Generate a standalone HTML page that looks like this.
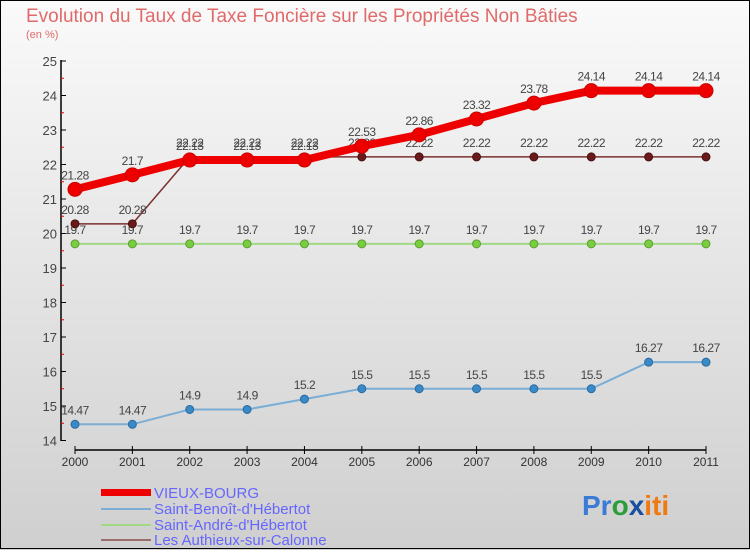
<!DOCTYPE html>
<html><head><meta charset="utf-8"><style>
body{margin:0;width:750px;height:550px;overflow:hidden;font-family:"Liberation Sans",sans-serif}
svg text{font-family:"Liberation Sans",sans-serif}
</style></head><body>
<svg width="750" height="550">
<defs><linearGradient id="bg" x1="0" y1="0" x2="0" y2="1"><stop offset="0" stop-color="#fafafa"/><stop offset="1" stop-color="#cfcfcf"/></linearGradient></defs>
<rect x="0" y="0" width="750" height="550" fill="url(#bg)"/>
<rect x="0.5" y="0.5" width="749" height="548" fill="none" stroke="#000"/>
<text x="26" y="22" font-size="19" fill="#e06a6a">Evolution du Taux de Taxe Foncière sur les Propriétés Non Bâties</text>
<text x="26" y="38" font-size="11" fill="#e06a6a">(en %)</text>
<g id="axes"></g><g id="series"></g>
<g>
<rect x="101" y="489" width="50" height="7" fill="#e00"/>
<text x="154" y="498" font-size="15" fill="#6666ff">VIEUX-BOURG</text>
<line x1="101" y1="509" x2="151" y2="509" stroke="#7aaed6" stroke-width="2"/>
<text x="154" y="514" font-size="15" fill="#6666ff">Saint-Benoît-d'Hébertot</text>
<line x1="101" y1="525" x2="151" y2="525" stroke="#a0d884" stroke-width="2"/>
<text x="154" y="530" font-size="15" fill="#6666ff">Saint-André-d'Hébertot</text>
<line x1="101" y1="540" x2="151" y2="540" stroke="#9a6e6e" stroke-width="2"/>
<text x="154" y="545" font-size="15" fill="#6666ff">Les Authieux-sur-Calonne</text>
</g>
<g font-size="28" font-weight="bold">
<text x="582" y="515"><tspan fill="#3a7bd5">Pr</tspan><tspan fill="#2a9d3a">o</tspan><tspan fill="#1a4fa0">x</tspan><tspan fill="#f07a10">iti</tspan></text>
</g>
</svg>
<script>
const years=[2000,2001,2002,2003,2004,2005,2006,2007,2008,2009,2010,2011];
const yTicks=[14,15,16,17,18,19,20,21,22,23,24,25];
const vieuxBourg=[21.28,21.7,22.13,22.13,22.13,22.53,22.86,23.32,23.78,24.14,24.14,24.14];
const saintBenoit=[14.47,14.47,14.9,14.9,15.2,15.5,15.5,15.5,15.5,15.5,16.27,16.27];
const saintAndre=[19.7,19.7,19.7,19.7,19.7,19.7,19.7,19.7,19.7,19.7,19.7,19.7];
const lesAuthieux=[20.28,20.28,22.22,22.22,22.22,22.22,22.22,22.22,22.22,22.22,22.22,22.22];
const NS='http://www.w3.org/2000/svg';
const xS=i=>75+i*(706-75)/11;
const yS=v=>440.5-(v-14)*34.5;
function mk(tag,attrs,parent,txt){const e=document.createElementNS(NS,tag);for(const k in attrs)e.setAttribute(k,attrs[k]);if(txt!==undefined)e.textContent=txt;parent.appendChild(e);return e;}
const ax=document.getElementById('axes');
let e=mk('line',{x1:61,y1:60,x2:61,y2:441,stroke:'#000','stroke-width':1.5},ax);


e=mk('line',{x1:75,y1:450,x2:706,y2:450,stroke:'#000','stroke-width':1.5},ax);


yTicks.forEach((t,i)=>{const y=yS(t);
mk('line',{x1:61,y1:y,x2:66,y2:y,stroke:'#000'},ax);
if(i<yTicks.length-1)mk('line',{x1:61,y1:y-17.25,x2:64,y2:y-17.25,stroke:'#e00'},ax);
e=mk('text',{x:57,y:y+5,'font-size':13,'text-anchor':'end',fill:'#444'},ax,String(t));

});
years.forEach((yr,i)=>{const x=xS(i);
mk('line',{x1:x,y1:446,x2:x,y2:454,stroke:'#000'},ax);
e=mk('text',{x:x,y:466,'font-size':12,'text-anchor':'middle',fill:'#333'},ax,String(yr));

});
const sg=document.getElementById('series');
function series(data,name,color,w,r,dot,stroke){
const g=mk('g',{},sg);


let p=mk('polyline',{points:data.map((v,i)=>xS(i)+','+yS(v)).join(' '),fill:'none',stroke:color,'stroke-width':w,'stroke-linejoin':'round'},g);


data.forEach((v,i)=>{const c=mk('circle',{cx:xS(i),cy:yS(v),r:r,fill:dot,stroke:stroke,'stroke-width':1},g);


const t=mk('text',{x:xS(i),y:yS(v)-10,'font-size':12,'text-anchor':'middle',fill:'#444','letter-spacing':'-0.5'},g,String(v));

});}
series(saintBenoit,'saint-benoit','#7aaed6',2,4,'#3a8ac8','#2a6aa0');
series(saintAndre,'saint-andre','#a0d884',2,4,'#7acc40','#5aa030');
series(lesAuthieux,'les-authieux','#7a3030',1.5,4,'#6a1a1a','#4a1010');
series(vieuxBourg,'vieux-bourg','#e00',8,7,'#e00','#c00');
</script>
</body></html>
